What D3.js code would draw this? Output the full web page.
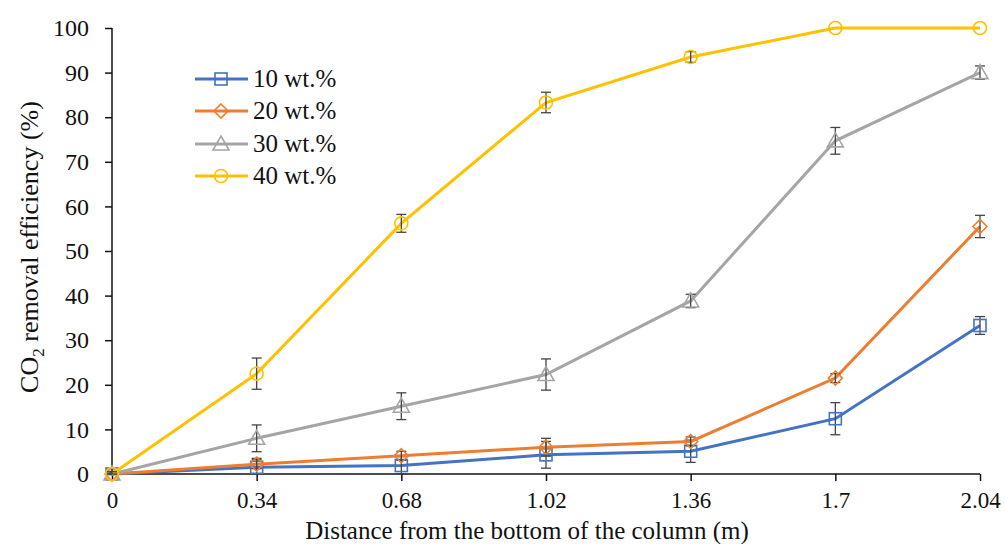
<!DOCTYPE html>
<html>
<head>
<meta charset="utf-8">
<script src="https://cdn.jsdelivr.net/npm/d3@7"></script>
<style>
  body { margin: 0; background: #fff; }
  text { font-family: "Liberation Serif", "Times New Roman", serif; fill: #111; }
</style>
</head>
<body>
<script>
// distances along the column (m)
let distances = [0, 0.34, 0.68, 1.02, 1.36, 1.7, 2.04];
let xTickLabels = ["0", "0.34", "0.68", "1.02", "1.36", "1.7", "2.04"];
let yTicks = [0, 10, 20, 30, 40, 50, 60, 70, 80, 90, 100];

let seriesNames = ["10 wt.%", "20 wt.%", "30 wt.%", "40 wt.%"];
let seriesColors = ["#4472C4", "#ED7D31", "#A5A5A5", "#FFC000"];
let seriesShapes = ["square", "diamond", "triangle", "circle"];

// removal efficiency (%) and error (+/-)
let wt10 = [0, 1.5, 1.9, 4.3, 5.1, 12.4, 33.3];
let wt10err = [0.5, 2, 2, 3, 2.5, 3.6, 2];
let wt20 = [0, 2.2, 4.1, 6.0, 7.3, 21.5, 55.5];
let wt20err = [0.5, 1, 1, 2, 1, 1, 2.5];
let wt30 = [0, 8, 15.2, 22.3, 38.8, 74.7, 90];
let wt30err = [0.5, 3, 3, 3.5, 1.5, 3, 1.5];
let wt40 = [0, 22.5, 56.2, 83.3, 93.5, 100, 100];
let wt40err = [0.5, 3.5, 2, 2.3, 1.2, 0, 0];

let allValues = [wt10, wt20, wt30, wt40];
let allErrors = [wt10err, wt20err, wt30err, wt40err];

let w = 1005, h = 544;
let svg = d3.select("body").append("svg")
    .attr("width", w)
    .attr("height", h);

let xScale = d3.scaleLinear().domain([0, 2.04]).range([112, 980]);
let yScale = d3.scaleLinear().domain([0, 100]).range([474, 28]);

/************** axes **************/
let yAxis = svg.append("g")
    .attr("transform", "translate(" + xScale(0) + ",0)")
    .call(d3.axisLeft(yScale).tickValues(yTicks).tickSize(7).tickPadding(16));
yAxis.select(".domain").attr("stroke", "#111").attr("stroke-width", 1.5).attr("d", "M0," + yScale(100) + "V" + yScale(0));
yAxis.selectAll(".tick line").attr("stroke", "#111").attr("stroke-width", 1.5);
yAxis.selectAll("text").attr("font-size", "24px").attr("font-family", "Liberation Serif").attr("fill", "#111");

let xAxis = svg.append("g")
    .attr("transform", "translate(0," + yScale(0) + ")")
    .call(d3.axisBottom(xScale).tickValues(distances)
        .tickFormat(function(d, i) { return xTickLabels[i]; })
        .tickSize(7).tickPadding(11));
xAxis.select(".domain").attr("stroke", "#111").attr("stroke-width", 1.5).attr("d", "M" + xScale(0) + ",0H" + xScale(2.04));
xAxis.selectAll(".tick line").attr("stroke", "#111").attr("stroke-width", 1.5);
xAxis.selectAll("text").attr("font-size", "23px").attr("font-family", "Liberation Serif").attr("fill", "#111");

// axis titles
svg.append("text")
    .attr("x", 527).attr("y", 539)
    .attr("text-anchor", "middle")
    .attr("font-size", "25px")
    .text("Distance from the bottom of the column (m)");

let yTitle = svg.append("text")
    .attr("transform", "translate(38,247) rotate(-90)")
    .attr("text-anchor", "middle")
    .attr("font-size", "26px");
yTitle.append("tspan").text("CO");
yTitle.append("tspan").attr("font-size", "17px").attr("dy", 6).text("2");
yTitle.append("tspan").attr("dy", -6).text(" removal efficiency (%)");

/************** markers **************/
function drawMarker(g, shape, color, cx, cy) {
    if (shape === "square") {
        g.append("rect").attr("x", cx - 6).attr("y", cy - 6).attr("width", 12).attr("height", 12)
            .attr("fill", "none").attr("stroke", color).attr("stroke-width", 1.6);
    } else if (shape === "diamond") {
        g.append("path").attr("d", "M" + cx + "," + (cy - 7) + "L" + (cx + 7) + "," + cy + "L" + cx + "," + (cy + 7) + "L" + (cx - 7) + "," + cy + "Z")
            .attr("fill", "none").attr("stroke", color).attr("stroke-width", 1.6);
    } else if (shape === "triangle") {
        g.append("path").attr("d", "M" + cx + "," + (cy - 8) + "L" + (cx + 8) + "," + (cy + 6) + "L" + (cx - 8) + "," + (cy + 6) + "Z")
            .attr("fill", "none").attr("stroke", color).attr("stroke-width", 1.6);
    } else {
        g.append("circle").attr("cx", cx).attr("cy", cy).attr("r", 6.5)
            .attr("fill", "none").attr("stroke", color).attr("stroke-width", 1.6);
    }
}

let line = d3.line()
    .x(function(d, i) { return xScale(distances[i]); })
    .y(function(d) { return yScale(d); });

allValues.forEach(function(vals, s) {
    let g = svg.append("g");
    g.append("path")
        .datum(vals)
        .attr("d", line)
        .attr("fill", "none")
        .attr("stroke", seriesColors[s])
        .attr("stroke-width", 3);

    // error bars
    vals.forEach(function(v, i) {
        let e = allErrors[s][i];
        if (e <= 0) return;
        let x = xScale(distances[i]);
        let y1 = yScale(v + e), y2 = yScale(Math.max(0, v - e));
        g.append("line").attr("x1", x).attr("x2", x).attr("y1", y1).attr("y2", y2)
            .attr("stroke", "#444").attr("stroke-width", 1.3);
        [y1, y2].forEach(function(yy) {
            g.append("line").attr("x1", x - 5).attr("x2", x + 5).attr("y1", yy).attr("y2", yy)
                .attr("stroke", "#444").attr("stroke-width", 1.3);
        });
    });

    vals.forEach(function(v, i) {
        drawMarker(g, seriesShapes[s], seriesColors[s], xScale(distances[i]), yScale(v));
    });
});

/************** legend **************/
let legendY = [79, 111, 144, 176];
seriesNames.forEach(function(name, s) {
    let g = svg.append("g");
    g.append("line").attr("x1", 195).attr("x2", 248).attr("y1", legendY[s]).attr("y2", legendY[s])
        .attr("stroke", seriesColors[s]).attr("stroke-width", 3);
    drawMarker(g, seriesShapes[s], seriesColors[s], 221, legendY[s]);
    g.append("text").attr("x", 253).attr("y", legendY[s] + 8)
        .attr("font-size", "25px")
        .text(name);
});
</script>
</body>
</html>
